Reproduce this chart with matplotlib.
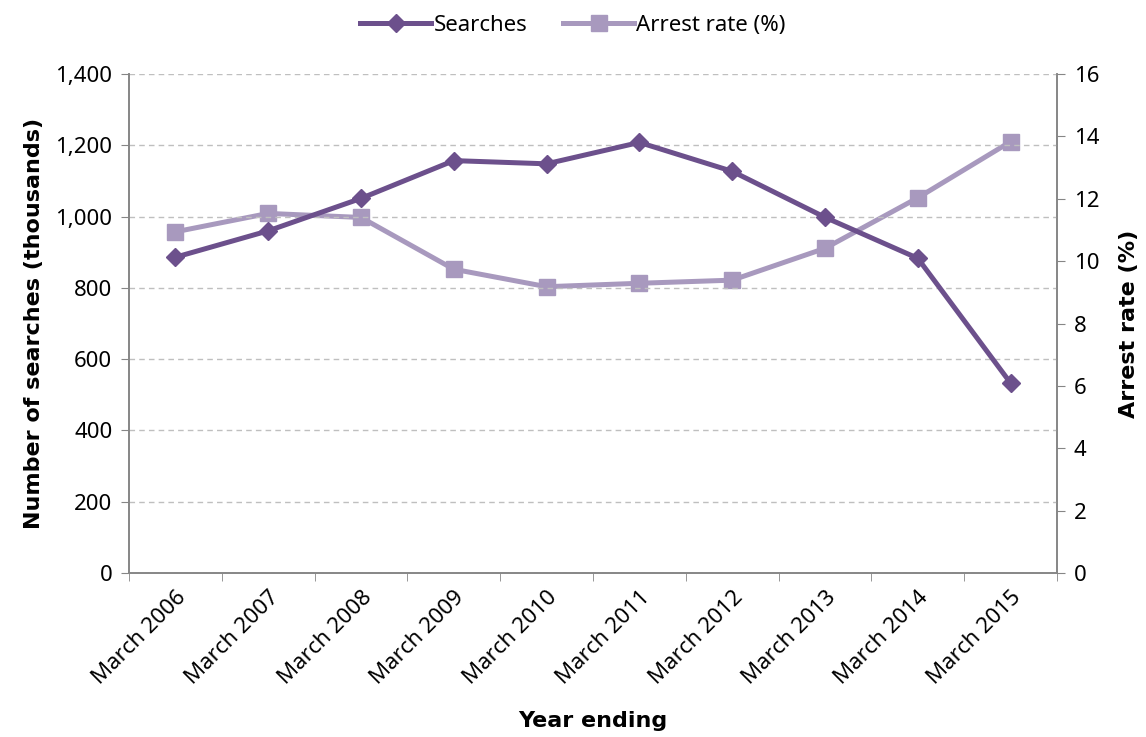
import matplotlib.pyplot as plt
import numpy as np
from matplotlib.ticker import FuncFormatter, FixedLocator

# Stop and search: number of searches and arrest rate
years = ["March 2006", "March 2007", "March 2008", "March 2009", "March 2010",
         "March 2011", "March 2012", "March 2013", "March 2014", "March 2015"]
searches = [886, 960, 1051, 1157, 1148, 1208, 1127, 998, 883, 533]
arrest_rate = [10.94, 11.53, 11.40, 9.74, 9.18, 9.29, 9.39, 10.41, 12.03, 13.83]

dark = "#6C508C"
light = "#A899BE"
grey = "#868686"
fs = 16
bold = dict(fontsize=fs, fontweight="bold", family=["DejaVu Sans"])

plt.rcParams["font.family"] = ["Noto Sans", "DejaVu Sans"]

fig = plt.figure(figsize=(11.46, 7.37), dpi=100)
ax = fig.add_axes([0.1126, 0.2225, 0.8097, 0.6771])
ax2 = ax.twinx()

x = np.arange(len(years))

l1, = ax.plot(x, searches, color=dark, lw=3.6, marker="D", markersize=9,
              label="Searches", zorder=3)
l2, = ax2.plot(x, arrest_rate, color=light, lw=3.6, marker="s", markersize=11,
               label="Arrest rate (%)", zorder=2)

ax.set_xlim(-0.5, len(years) - 0.5)
ax.set_ylim(0, 1400)
ax2.set_ylim(0, 16)
ax.set_yticks(np.arange(0, 1401, 200))
ax2.set_yticks(np.arange(0, 17, 2))
ax.yaxis.set_major_formatter(FuncFormatter(lambda v, p: f"{int(v):,}"))

ax.yaxis.grid(True, color="#BFBFBF", linestyle=(0, (4, 3)), linewidth=1)
ax.set_axisbelow(True)

# category labels centred, tick marks between categories
ax.set_xticks(x)
ax.set_xticklabels(years, rotation=45, ha="right", rotation_mode="anchor")
ax.xaxis.set_minor_locator(FixedLocator(np.arange(-0.5, len(years), 1)))
ax.tick_params(axis="x", which="major", length=0, pad=10, labelsize=fs)
ax.tick_params(axis="x", which="minor", length=6, color=grey, direction="out")
ax.tick_params(axis="y", length=6, color=grey, labelsize=fs, pad=6)
ax2.tick_params(axis="y", length=6, color=grey, labelsize=fs, pad=6)

for a in (ax, ax2):
    a.spines["top"].set_visible(False)
    for s in ("left", "right", "bottom"):
        a.spines[s].set_color(grey)
        a.spines[s].set_linewidth(1.2)

ax.set_xlabel("Year ending", labelpad=16, **bold)
ax.set_ylabel("Number of searches (thousands)", labelpad=8, **bold)
ax2.set_ylabel("Arrest rate (%)", rotation=90, labelpad=14, **bold)

ax.set_zorder(ax2.get_zorder() + 1)
ax.patch.set_visible(False)

fig.legend(handles=[l1, l2], loc="center", bbox_to_anchor=(0.5, 0.966), ncol=2,
           frameon=False, fontsize=fs, handlelength=3.2, handletextpad=0.1,
           columnspacing=1.6)

fig.savefig("out.png", dpi=100)
